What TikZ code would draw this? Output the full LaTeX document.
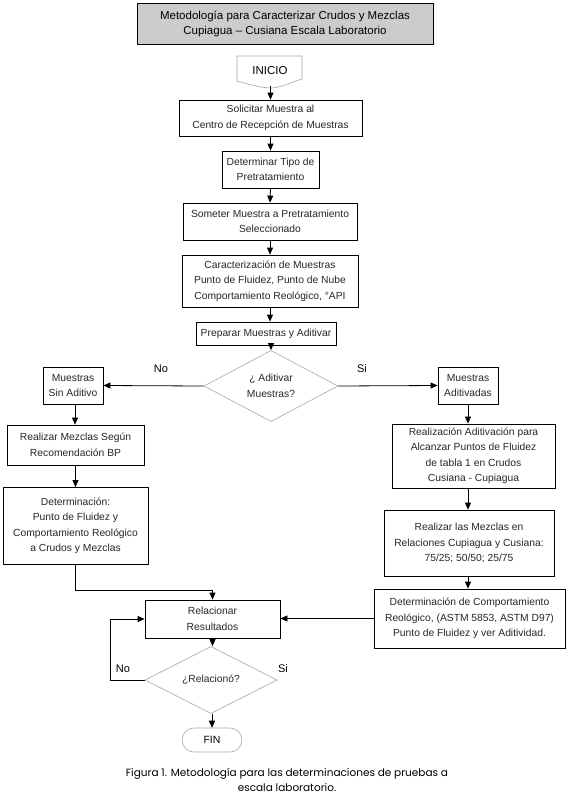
\documentclass[tikz,border=0pt]{standalone}
\usepackage{fontspec}
\setmainfont{Liberation Sans}
\newfontfamily\capfont{Poppins}
\usetikzlibrary{shapes.geometric,arrows.meta,calc}
\begin{document}
\begin{tikzpicture}[x=1pt,y=-1pt,
  box/.style={draw=black, line width=0.8pt, rectangle, align=center, inner sep=0pt,
    font=\fontsize{10.3}{15.5}\selectfont, text=black!85},
  dia/.style={draw=black!35, line width=0.6pt, diamond, inner sep=0pt, align=center,
    font=\fontsize{10.3}{15.5}\selectfont, text=black!85},
  term/.style={draw=black!35, line width=0.6pt, align=center, inner sep=0pt,
    font=\fontsize{10.5}{13}\selectfont},
  arr/.style={-{Triangle[length=7pt,width=6pt]}, line width=0.8pt},
  lbl/.style={font=\fontsize{11}{13}\selectfont, inner sep=0pt}
]
\useasboundingbox (0,0) rectangle (571,798);

% title
\node[box, fill=black!20, minimum width=296, minimum height=41,
  font=\fontsize{11.5}{15}\selectfont, text=black] (title) at (285,23.5)
  {Metodología para Caracterizar Crudos y Mezclas\\Cupiagua – Cusiana Escala Laboratorio};

% inicio (document shape)
\node[inner sep=0pt, minimum width=65, minimum height=31,
  font=\fontsize{11.5}{13}\selectfont] (inicio) at (270,70.5) {INICIO};
\draw[black!35, line width=0.6pt] (237,81) -- (237,56) -- (302,56) -- (302,79)
  .. controls (292,82) and (282,87) .. (272,88)
  .. controls (260,88) and (248,84) .. (237,81);

% main column
\node[box, minimum width=183, minimum height=36] (solicitar) at (270.5,118)
  {Solicitar Muestra al\\Centro de Recepción de Muestras};
\node[box, minimum width=97, minimum height=37] (determinar) at (270.5,169.5)
  {Determinar Tipo de\\Pretratamiento};
\node[box, minimum width=174, minimum height=37] (someter) at (270,221.5)
  {Someter Muestra a Pretratamiento\\Seleccionado};
\node[box, minimum width=176, minimum height=52] (caract) at (270,281)
  {Caracterización de Muestras\\Punto de Fluidez, Punto de Nube\\Comportamiento Reológico, °API};
\node[box, minimum width=140, minimum height=23] (preparar) at (266,333.5)
  {Preparar Muestras y Aditivar};
\node[dia, minimum width=134, minimum height=48] (aditivar) at (271,386)
  {¿ Aditivar\\Muestras?};

% left branch
\node[box, minimum width=60, minimum height=37] (sinaditivo) at (73,385.5)
  {Muestras\\Sin Aditivo};
\node[box, minimum width=137, minimum height=40] (mezclasbp) at (75.5,445)
  {Realizar Mezclas Según\\Recomendación BP};
\node[box, minimum width=145, minimum height=77] (detleft) at (75.5,526)
  {Determinación:\\Punto de Fluidez y\\Comportamiento Reológico\\a Crudos y Mezclas};

% right branch
\node[box, minimum width=60, minimum height=37] (aditivadas) at (468,385.5)
  {Muestras\\Aditivadas};
\node[box, minimum width=163, minimum height=64] (realizacion) at (473.5,456)
  {Realización Aditivación para\\Alcanzar Puntos de Fluidez\\de tabla 1 en Crudos\\Cusiana - Cupiagua};
\node[box, minimum width=170, minimum height=66] (mezclas2) at (469,543)
  {Realizar las Mezclas en\\Relaciones Cupiagua y Cusiana:\\75/25; 50/50; 25/75};
\node[box, minimum width=191, minimum height=59] (detcomp) at (469.5,618.5)
  {Determinación de Comportamiento\\Reológico, (ASTM 5853, ASTM D97)\\Punto de Fluidez y ver Aditividad.};

% bottom
\node[box, minimum width=135, minimum height=38] (relacionar) at (212.5,619)
  {Relacionar\\Resultados};
\node[dia, minimum width=132, minimum height=44] (relaciono) at (211,680)
  {¿Relacionó?};
\node[term, rounded corners=12pt, minimum width=60, minimum height=24] (fin) at (212,740)
  {FIN};

% caption
\node[align=center, inner sep=0pt, text=black,
  font=\capfont\fontsize{10.5}{15}\selectfont] (caption) at (287,780)
  {Figura 1. Metodología para las determinaciones de pruebas a\\escala laboratorio.};

% connectors
\draw[arr] (inicio.south -| solicitar.north) -- (solicitar.north);
\draw[arr] (solicitar.south) -- (determinar.north);
\draw[arr] (determinar.south) -- (someter.north);
\draw[arr] (someter.south) -- (caract.north);
\draw[arr] (caract.south) -- (caract.south |- preparar.north);
\draw[arr] (preparar.south -| aditivar.north) -- (aditivar.north);
\draw[arr] (aditivar.west) -- (sinaditivo.east);
\draw[arr] (aditivar.east) -- (aditivadas.west);
\node[lbl] (no1) at (161,369) {No};
\node[lbl] (si1) at (362,369) {Si};

\draw[arr] ([xshift=2pt]sinaditivo.south) -- ([xshift=2pt]sinaditivo.south |- mezclasbp.north);
\draw[arr] (mezclasbp.south) -- (detleft.north);
\draw[arr] (detleft.south) |- ($(relacionar.north)+(0,-9)$) -- (relacionar.north);

\draw[arr] (aditivadas.south) -- (aditivadas.south |- realizacion.north);
\draw[arr] (realizacion.south -| aditivadas.south) -- (aditivadas.south |- mezclas2.north);
\draw[arr] (mezclas2.south -| aditivadas.south) -- (aditivadas.south |- detcomp.north);
\draw[arr] (detcomp.west) -- (detcomp.west -| relacionar.east);

\draw[arr] (relacionar.south) -- (relacionar.south |- relaciono.north);
\draw[arr] (relaciono.west) -- ++(-34,0) |- (relacionar.west);
\draw[arr] (relaciono.south -| fin.north) -- (fin.north);
\node[lbl] (no2) at (123,669) {No};
\node[lbl] (si2) at (283,669) {Si};
\end{tikzpicture}
\end{document}
